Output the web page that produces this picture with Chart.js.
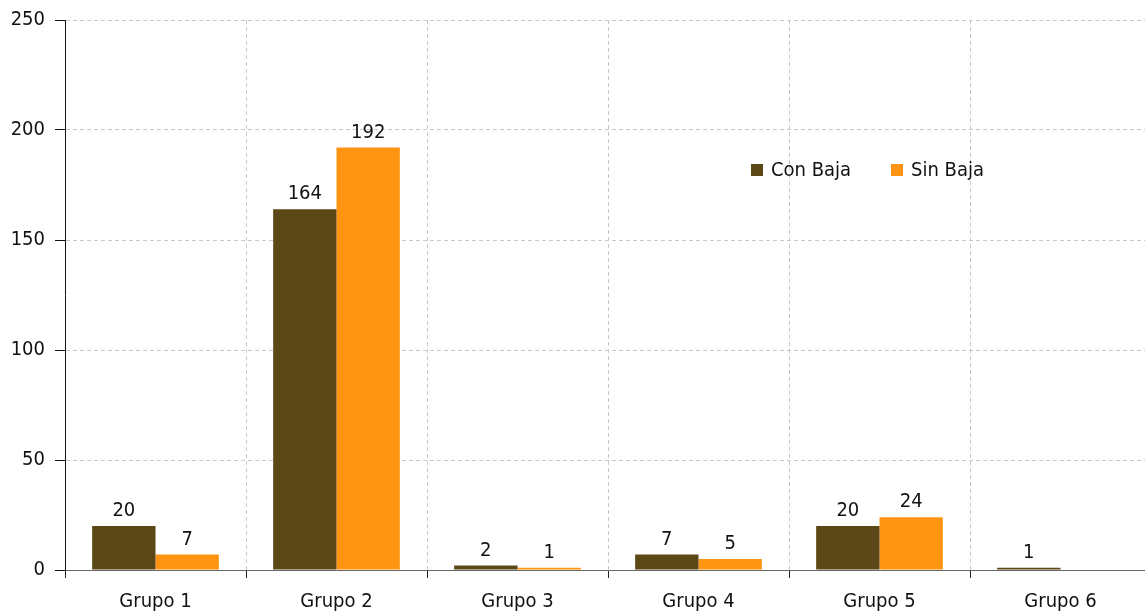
<!DOCTYPE html>
<html><head><meta charset="utf-8">
<script src="https://cdn.jsdelivr.net/npm/chart.js@4/dist/chart.umd.min.js"></script>
<style>html,body{margin:0;padding:0;background:#fff;overflow:hidden}#wrap{width:1145px;height:616px;overflow:hidden}</style>
</head><body><div id="wrap"><canvas id="c" width="1151" height="616"></canvas></div>
<script>
const categories = ["Grupo 1","Grupo 2","Grupo 3","Grupo 4","Grupo 5","Grupo 6"];
const conBaja = [20,164,2,7,20,1];
const sinBaja = [7,192,1,5,24,null];
const seriesNames = ["Con Baja","Sin Baja"];
const yTicks = [0,50,100,150,200,250];
const colors = ["#5c4717","#ff9412"];
const FONT = "'DejaVu Sans Condensed', 'DejaVu Sans', sans-serif";

const labelPlugin = {
  id:'labels',
  afterDatasetsDraw(chart){
    const ctx = chart.ctx;
    ctx.save();
    ctx.font = "20px " + FONT;
    ctx.fillStyle = "#111";
    ctx.textAlign = "center";
    ctx.textBaseline = "alphabetic";
    chart.data.datasets.forEach((ds,i)=>{
      chart.getDatasetMeta(i).data.forEach((el,j)=>{
        if (ds.data[j]==null) return;
        ctx.fillText(String(ds.data[j]), el.x, el.y - 10);
      });
    });
    ctx.restore();
  }
};
const legendPlugin = {
  id:'customLegend',
  afterDraw(chart){
    const ctx = chart.ctx;
    ctx.save();
    ctx.font = "20px " + FONT;
    ctx.textBaseline = "middle";
    ctx.textAlign = "left";
    const xs = [751, 891];
    chart.data.datasets.forEach((ds,i)=>{
      ctx.fillStyle = ds.backgroundColor;
      ctx.fillRect(xs[i], 164, 12, 12);
      ctx.fillStyle = "#111";
      ctx.fillText(ds.label, xs[i]+20, 171);
    });
    ctx.restore();
  }
};

new Chart(document.getElementById('c'), {
  type:'bar',
  data:{
    labels: categories,
    datasets:[
      {label: seriesNames[0], data: conBaja, backgroundColor: colors[0]},
      {label: seriesNames[1], data: sinBaja, backgroundColor: colors[1]}
    ]
  },
  options:{
    responsive:false, animation:false,
    layout:{padding:{top:18,right:0,left:0,bottom:0}},
    plugins:{legend:{display:false}, tooltip:{enabled:false}},
    datasets:{bar:{categoryPercentage:0.7, barPercentage:1}},
    scales:{
      x:{
        grid:{offset:true, color:'#c8c8c8', tickColor:'#222', tickLength:8, tickBorderDash:[]},
        border:{color:'#666', dash:[4,3], width:1},
        ticks:{font:{family:FONT,size:20,lineHeight:1}, color:'#111', padding:14},
        afterFit(s){ s.height = 46; }
      },
      y:{
        min:0, max:250,
        afterBuildTicks(s){ s.ticks = yTicks.map(v=>({value:v})); },
        grid:{color:(c)=> c.tick && c.tick.value===0 ? 'rgba(0,0,0,0)' : '#c8c8c8', tickColor:'#111', tickLength:10, tickBorderDash:[]},
        border:{color:'#111', dash:[4,3], width:1},
        ticks:{font:{family:FONT,size:20,lineHeight:1}, color:'#111', padding:10},
        afterFit(s){ s.width = 65; }
      }
    }
  },
  plugins:[labelPlugin, legendPlugin]
});
</script></body></html>
